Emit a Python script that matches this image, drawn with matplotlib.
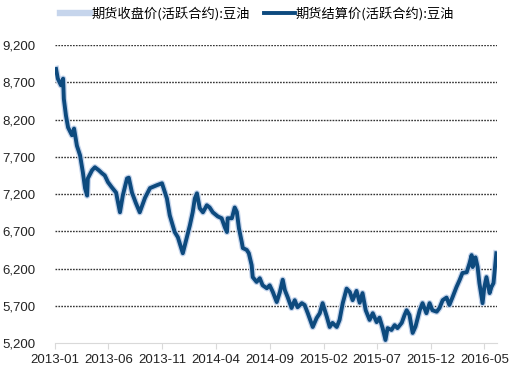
import matplotlib
matplotlib.use("Agg")
import matplotlib.pyplot as plt
import matplotlib.ticker as mticker
import pandas as pd

# 数据
dates = [
    "2013-01-04", "2013-01-09", "2013-01-18", "2013-01-24", "2013-01-26", "2013-02-01",
    "2013-02-07", "2013-02-18", "2013-02-24", "2013-03-04", "2013-03-13", "2013-03-21",
    "2013-03-27", "2013-04-02", "2013-04-04", "2013-04-16", "2013-04-24", "2013-05-05",
    "2013-05-14", "2013-05-22", "2013-05-31", "2013-06-11", "2013-06-23", "2013-07-04",
    "2013-07-12", "2013-07-24", "2013-07-29", "2013-08-07", "2013-08-18", "2013-08-29",
    "2013-09-13", "2013-09-27", "2013-10-17", "2013-10-31", "2013-11-14", "2013-11-22",
    "2013-12-06", "2013-12-15", "2013-12-29", "2014-01-09", "2014-01-18", "2014-01-26",
    "2014-02-01", "2014-02-07", "2014-02-15", "2014-02-24", "2014-03-07", "2014-03-15",
    "2014-03-24", "2014-04-07", "2014-04-18", "2014-04-27", "2014-05-03", "2014-05-05",
    "2014-05-17", "2014-05-25", "2014-05-31", "2014-06-06", "2014-06-14", "2014-06-17",
    "2014-06-28", "2014-07-04", "2014-07-12", "2014-07-15", "2014-07-26", "2014-08-04",
    "2014-08-12", "2014-08-24", "2014-09-01", "2014-09-10", "2014-09-21", "2014-09-30",
    "2014-10-08", "2014-10-14", "2014-10-22", "2014-11-02", "2014-11-11", "2014-11-19",
    "2014-12-01", "2014-12-09", "2014-12-18", "2015-01-01", "2015-01-12", "2015-01-21",
    "2015-01-29", "2015-02-10", "2015-02-18", "2015-02-26", "2015-03-10", "2015-03-18",
    "2015-03-27", "2015-04-07", "2015-04-16", "2015-04-24", "2015-05-05", "2015-05-14",
    "2015-05-22", "2015-05-31", "2015-06-11", "2015-06-20", "2015-07-01", "2015-07-09",
    "2015-07-18", "2015-07-26", "2015-08-01", "2015-08-12", "2015-08-21", "2015-08-29",
    "2015-09-10", "2015-09-18", "2015-09-24", "2015-10-02", "2015-10-11", "2015-10-19",
    "2015-10-31", "2015-11-08", "2015-11-19", "2015-11-28", "2015-12-06", "2015-12-18",
    "2015-12-26", "2016-01-04", "2016-01-15", "2016-01-23", "2016-02-01", "2016-02-12",
    "2016-02-21", "2016-02-29", "2016-03-12", "2016-03-20", "2016-03-26", "2016-03-29",
    "2016-04-06", "2016-04-12", "2016-04-17", "2016-04-26", "2016-05-01", "2016-05-07",
    "2016-05-16", "2016-05-21", "2016-05-27", "2016-06-04",
]
settle = [
    8880, 8750, 8660, 8750, 8480, 8255,
    8095, 7990, 8080, 7850, 7720, 7490,
    7280, 7180, 7410, 7520, 7560, 7520,
    7480, 7450, 7360, 7290, 7220, 6955,
    7180, 7410, 7420, 7220, 7080, 6955,
    7150, 7280, 7320, 7345, 7140, 6915,
    6690, 6620, 6405, 6610, 6780, 6955,
    7140, 7210, 7010, 6955, 7050, 7020,
    6955, 6900, 6875, 6755, 6690, 6875,
    6875, 7020, 6960, 6740, 6555, 6475,
    6450, 6405, 6245, 6085, 6020, 6070,
    5975, 5935, 5975, 5885, 5750, 5885,
    6050, 5910, 5815, 5670, 5775, 5680,
    5735, 5710, 5600, 5415, 5535, 5600,
    5735, 5550, 5415, 5470, 5415, 5510,
    5735, 5930, 5885, 5775, 5900, 5740,
    5870, 5640, 5510, 5600, 5480, 5540,
    5400, 5240, 5400, 5375, 5440, 5400,
    5470, 5575, 5640, 5575, 5335, 5420,
    5640, 5735, 5600, 5735, 5640, 5620,
    5670, 5775, 5810, 5710, 5815, 5950,
    6045, 6140, 6150, 6270, 6380, 6220,
    6350, 6220, 6005, 5735, 5950, 6085,
    5870, 5950, 6005, 6405,
]
close = list(settle)  # 收盘价与结算价几乎重合

labels = ["期货收盘价(活跃合约):豆油", "期货结算价(活跃合约):豆油"]
yticks = [5200, 5700, 6200, 6700, 7200, 7700, 8200, 8700, 9200]
xticks = ["2013-01", "2013-06", "2013-11", "2014-04", "2014-09",
          "2015-02", "2015-07", "2015-12", "2016-05"]

x = pd.to_datetime(dates)

plt.rcParams['font.family'] = ['Noto Sans CJK SC', 'DejaVu Sans']

fig = plt.figure(figsize=(5.14, 3.78), dpi=100)
ax = fig.add_axes([0.107, 0.0926, 0.860, 0.788])

l1, = ax.plot(x, close, color="#c6d5ec", lw=4.6, solid_joinstyle="round")
l2, = ax.plot(x, settle, color="#0d4a7e", lw=2.8, solid_joinstyle="round")

ax.set_ylim(5200, 9200)
ax.set_xlim(pd.Timestamp("2013-01-01"), pd.Timestamp("2016-06-06"))
ax.set_yticks(yticks)
ax.yaxis.set_major_formatter(mticker.FuncFormatter(lambda v, p: f"{int(v):,}"))
ax.set_xticks(pd.to_datetime([t + "-01" for t in xticks]))
ax.set_xticklabels(xticks)

# 虚线网格
for v in yticks[1:]:
    ax.axhline(v, color="#333333", lw=1.0, ls=(0, (1.2, 0.9)), zorder=0)

for s in ["top", "right", "left"]:
    ax.spines[s].set_visible(False)
ax.spines["bottom"].set_color("#d9d9d9")
ax.tick_params(axis="y", length=0, pad=14)
ax.tick_params(axis="x", length=4, color="#d9d9d9", pad=4)
for t in ax.get_xticklabels() + ax.get_yticklabels():
    t.set_family("Liberation Sans")
    t.set_fontsize(9.5)
    t.set_color("#222222")

fig.legend([l1, l2], labels, loc="center", bbox_to_anchor=(0.5, 0.965), ncol=2,
           frameon=False, fontsize=9.5, handlelength=2.3, handletextpad=0.1,
           columnspacing=1.1)

fig.savefig("out.png", dpi=100)
